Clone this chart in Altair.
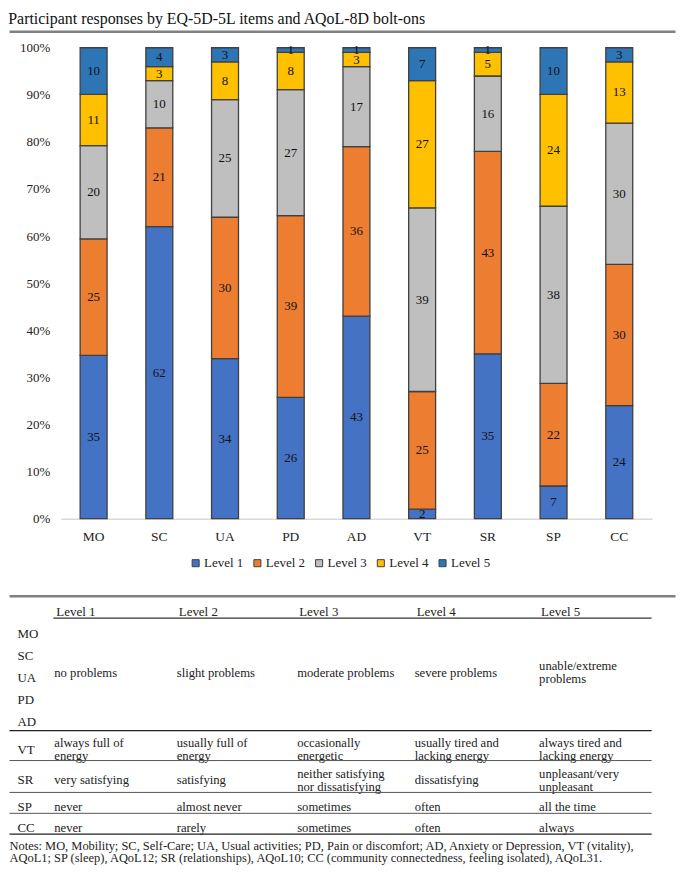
import altair as alt
import pandas as pd

FONT = "Liberation Serif"

items = ["MO", "SC", "UA", "PD", "AD", "VT", "SR", "SP", "CC"]
levels = ["Level 1", "Level 2", "Level 3", "Level 4", "Level 5"]
level1 = [35, 62, 34, 26, 43, 2, 35, 7, 24]
level2 = [25, 21, 30, 39, 36, 25, 43, 22, 30]
level3 = [20, 10, 25, 27, 17, 39, 16, 38, 30]
level4 = [11, 3, 8, 8, 3, 27, 5, 24, 13]
level5 = [10, 4, 3, 1, 1, 7, 1, 10, 3]
colors = ["#4472C4", "#ED7D31", "#BFBFBF", "#FFC000", "#2E75B6"]

title_text = "Participant responses by EQ-5D-5L items and AQoL-8D bolt-ons"

table_rows = ["MO\nSC\nUA\nPD\nAD", "VT", "SR", "SP", "CC"]
cells_eq = ["no problems", "slight problems", "moderate problems", "severe problems", "unable/extreme\nproblems"]
cells_vt = ["always full of\nenergy", "usually full of\nenergy", "occasionally\nenergetic",
            "usually tired and\nlacking energy", "always tired and\nlacking energy"]
cells_sr = ["very satisfying", "satisfying", "neither satisfying\nnor dissatisfying",
            "dissatisfying", "unpleasant/very\nunpleasant"]
cells_sp = ["never", "almost never", "sometimes", "often", "all the time"]
cells_cc = ["never", "rarely", "sometimes", "often", "always"]
notes = ("Notes: MO, Mobility; SC, Self-Care; UA, Usual activities; PD, Pain or discomfort; "
         "AD, Anxiety or Depression, VT (vitality),\n"
         "AQoL1; SP (sleep), AQoL12; SR (relationships), AQoL10; CC (community connectedness, "
         "feeling isolated), AQoL31.")

# ---------- bar data ----------
recs = []
for li, (lev, vals) in enumerate(zip(levels, [level1, level2, level3, level4, level5])):
    for it, v in zip(items, vals):
        recs.append({"item": it, "level": lev, "order": li, "value": v})
bar_df = pd.DataFrame(recs)

base = (
    alt.Chart(bar_df)
    .transform_joinaggregate(total="sum(value)", groupby=["item"])
    .transform_window(cum="sum(value)", sort=[alt.SortField("order")], groupby=["item"], frame=[None, 0])
    .transform_calculate(
        y0="(datum.cum - datum.value) / datum.total",
        y1="datum.cum / datum.total",
        ym="(datum.cum - datum.value / 2) / datum.total",
    )
)

xband = alt.X(
    "item:N", sort=items,
    scale=alt.Scale(paddingInner=0.59, paddingOuter=0.295),
    axis=alt.Axis(title=None, labelAngle=0, ticks=False, domainColor="#D9D9D9", domainWidth=1.5,
                  labelFont=FONT, labelFontSize=13.5, labelColor="#222", labelPadding=11),
)
yscale = alt.Scale(domain=[0, 1], nice=False, zero=True)

bars = base.mark_bar(stroke="#404040", strokeWidth=1.3).encode(
    x=xband,
    y=alt.Y("y0:Q", scale=yscale,
            axis=alt.Axis(title=None, format="%", values=[i / 10 for i in range(11)], ticks=False,
                          domain=False, grid=False, labelFont=FONT, labelFontSize=13,
                          labelColor="#222", labelPadding=11)),
    y2="y1:Q",
    color=alt.Color("level:N", scale=alt.Scale(domain=levels, range=colors),
                    legend=alt.Legend(orient="none", legendX=129, legendY=511, direction="horizontal",
                                      title=None, symbolType="square", symbolSize=50,
                                      symbolStrokeColor="#404040", symbolStrokeWidth=1,
                                      labelFont=FONT, labelFontSize=13, labelColor="#222",
                                      columnPadding=7, labelOffset=2)),
    order=alt.Order("order:Q"),
)
labels = base.mark_text(font=FONT, fontSize=13, color="#111").encode(
    x=alt.X("item:N", sort=items, scale=alt.Scale(paddingInner=0.59, paddingOuter=0.295)),
    y=alt.Y("ym:Q", scale=yscale),
    text="value:Q",
)
bar_layer = alt.layer(bars, labels)

# ---------- table data ----------
trecs = []
for ci, lev in enumerate(levels):
    trecs.append({"tx": ci + 1, "ty": 0, "text": lev, "kind": "header"})
for ri, lab in enumerate(table_rows):
    trecs.append({"tx": 0, "ty": ri + 1, "text": lab, "kind": "rowlab"})
for ri, cells in enumerate([cells_eq, cells_vt, cells_sr, cells_sp, cells_cc]):
    for ci, txt in enumerate(cells):
        trecs.append({"tx": ci + 1, "ty": ri + 1, "text": txt, "kind": "cell"})
trecs.append({"tx": -1, "ty": 6, "text": notes, "kind": "notes"})
tdf = pd.DataFrame(trecs)
tdf["nlines"] = tdf["text"].str.count("\n") + 1

TX = alt.Scale(domain=[-1, 0, 1, 2, 3, 4, 5], range=[-51.5, -43.5, -6.5, 116.5, 237.5, 355.5, 480.5],
               nice=False, zero=False)
TY = alt.Scale(domain=[0, 1, 2, 3, 4, 5, 6], range=[567, 628, 705, 736, 763, 784, 808],
               nice=False, zero=False)

tbase = alt.Chart(tdf)
tenc = dict(x=alt.X("tx:Q", scale=TX, axis=None), y=alt.Y("ty:Q", scale=TY, axis=None), text="text:N")


def tlayer(cond, size, lh, dy, dx=0):
    return tbase.transform_filter(cond).mark_text(
        font=FONT, fontSize=size, color="#222", align="left", baseline="middle", lineBreak="\n",
        lineHeight=lh, dy=dy, dx=dx).encode(**tenc)


table_layer = alt.layer(
    tlayer("datum.kind == 'header'", 13, 13, 0, 2),
    tlayer("datum.kind == 'rowlab' && datum.nlines == 1", 13, 13, 0),
    tlayer("datum.kind == 'rowlab' && datum.nlines == 5", 13, 22, -39),
    tlayer("datum.kind == 'cell' && datum.nlines == 1", 12.7, 13, 0),
    tlayer("datum.kind == 'cell' && datum.nlines == 2", 12.7, 13, -6.5),
    tlayer("datum.kind == 'notes'", 12.5, 12.5, -6.25),
)

# ---------- decorative rules ----------
one = pd.DataFrame({"k": [0]})


def hrule(y, x1, x2, color, width):
    return alt.Chart(one).mark_rule(color=color, strokeWidth=width).encode(
        x=alt.value(x1), x2=alt.value(x2), y=alt.value(y))


rules = [
    hrule(-16, -51.5, 617.5, "#808080", 2.5),
    hrule(551, -51.5, 617.5, "#808080", 2.5),
    hrule(573, -7.5, 593.5, "#333333", 1.2),
    hrule(686, -51.5, 593.5, "#222222", 1.3),
    hrule(716, -51.5, 593.5, "#555555", 1),
    hrule(748, -51.5, 593.5, "#555555", 1),
    hrule(769, -51.5, 593.5, "#555555", 1),
    hrule(790, -51.5, 593.5, "#222222", 1.3),
]

chart = (
    alt.layer(bar_layer, table_layer, *rules)
    .resolve_scale(x="independent", y="independent")
    .properties(
        width=594, height=473, padding=0,
        title=alt.TitleParams(title_text, anchor="start", font=FONT, fontSize=16, fontWeight="normal",
                              color="#111", offset=4),
    )
    .configure_view(stroke=None)
)

chart.save("out.html", embed_options={"renderer": "svg", "actions": False})
